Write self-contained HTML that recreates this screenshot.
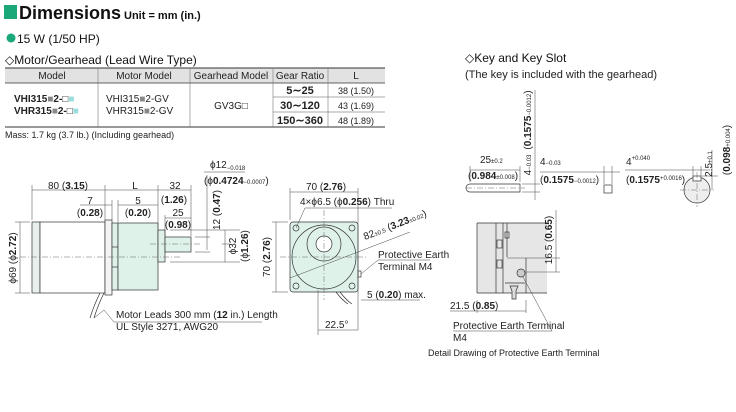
<!DOCTYPE html>
<html><head><meta charset="utf-8"><style>
html,body{margin:0;padding:0;background:#fff;}
svg{display:block;font-family:"Liberation Sans",sans-serif;}
.t{font-size:10px;fill:#222;}
.s{font-size:9px;fill:#222;}
.b{font-weight:bold;}
.ln{stroke:#333;stroke-width:0.7;fill:none;}
.dim{stroke:#444;stroke-width:0.5;fill:none;}
.cl{stroke:#666;stroke-width:0.5;stroke-dasharray:6 2 1 2;fill:none;}
</style></head><body>
<svg width="736" height="412" viewBox="0 0 736 412" xmlns="http://www.w3.org/2000/svg">
<!-- Header -->
<rect x="4" y="5" width="13" height="14" fill="#1aa77a"/>
<text x="19" y="19" style="font-size:18px;font-weight:bold" fill="#111">Dimensions</text>
<text x="124" y="19" class="b" style="font-size:11px" fill="#111">Unit = mm (in.)</text>
<circle cx="11" cy="38" r="4.5" fill="#1aa77a"/>
<text x="17" y="43" style="font-size:12px" fill="#111">15 W (1/50 HP)</text>
<text x="5" y="64" style="font-size:12px" fill="#111">◇Motor/Gearhead (Lead Wire Type)</text>
<!-- Table -->
<rect x="5" y="68" width="380" height="15" fill="#e2e2e2"/>
<line x1="5" y1="68" x2="385" y2="68" stroke="#333" stroke-width="1"/>
<line x1="5" y1="83" x2="385" y2="83" stroke="#333" stroke-width="0.8"/>
<line x1="5" y1="127" x2="385" y2="127" stroke="#333" stroke-width="1"/>
<line x1="273" y1="97" x2="385" y2="97" stroke="#555" stroke-width="0.6"/>
<line x1="273" y1="112" x2="385" y2="112" stroke="#555" stroke-width="0.6"/>
<g stroke="#777" stroke-width="0.6"><line x1="98" y1="68" x2="98" y2="127"/><line x1="190" y1="68" x2="190" y2="127"/><line x1="273" y1="68" x2="273" y2="127"/><line x1="328" y1="68" x2="328" y2="127"/></g>
<g class="t" text-anchor="middle"><text x="52" y="79">Model</text><text x="144" y="79">Motor Model</text><text x="231" y="79">Gearhead Model</text><text x="300" y="79">Gear Ratio</text><text x="356" y="79">L</text>
<text x="300" y="94" class="b" style="font-size:11px">5∼25</text><text x="300" y="109" class="b" style="font-size:11px">30∼120</text><text x="300" y="124" class="b" style="font-size:11px">150∼360</text>
<text x="356" y="94" class="s">38 (1.50)</text><text x="356" y="109" class="s">43 (1.69)</text><text x="356" y="124" class="s">48 (1.89)</text>
<text x="231" y="109">GV3G□</text></g>
<text x="14" y="102" class="b" style="font-size:10px" fill="#222">VHI315<tspan fill="#888">■</tspan>2-□<tspan fill="#9dd">■</tspan></text>
<text x="14" y="114" class="b" style="font-size:10px" fill="#222">VHR315<tspan fill="#888">■</tspan>2-□<tspan fill="#9dd">■</tspan></text>
<text x="106" y="102" class="t">VHI315<tspan fill="#888">■</tspan>2-GV</text>
<text x="106" y="114" class="t">VHR315<tspan fill="#888">■</tspan>2-GV</text>
<text x="5" y="138" class="s" fill="#333">Mass: 1.7 kg (3.7 lb.) (Including gearhead)</text>

<!-- Side view -->
<rect x="32" y="222" width="8" height="71" class="ln" style="fill:#e8f0ee"/>
<rect x="40" y="222" width="65" height="71" class="ln" style="fill:#fff"/>
<rect x="105" y="220" width="7" height="75" class="ln" style="fill:#f4f4f4"/>
<rect x="112" y="223" width="6" height="67" class="ln" style="fill:#dff2ea"/>
<rect x="118" y="223" width="40" height="67" class="ln" style="fill:#dff2ea"/>
<line x1="112" y1="247" x2="118" y2="247" class="ln"/><line x1="112" y1="267" x2="118" y2="267" class="ln"/>
<rect x="158" y="230" width="7" height="32" class="ln" style="fill:#dff2ea"/>
<rect x="165" y="237" width="26" height="15" class="ln" style="fill:#dff2ea"/>
<line x1="20" y1="257" x2="182" y2="257" class="cl"/>
<line x1="150" y1="244" x2="200" y2="244" class="cl"/>
<path d="M100 293 q-6 12 -10 25 M104 293 q-6 12 -10 25" class="ln"/>
<!-- side dims -->
<g class="dim"><line x1="32" y1="190" x2="105" y2="190"/><line x1="32" y1="185" x2="32" y2="220"/><line x1="105" y1="185" x2="105" y2="220"/>
<line x1="105" y1="190" x2="158" y2="190"/><line x1="158" y1="185" x2="158" y2="228"/><line x1="158" y1="190" x2="191" y2="190"/><line x1="191" y1="185" x2="191" y2="236"/>
<line x1="80" y1="205" x2="112" y2="205"/><line x1="112" y1="200" x2="112" y2="220"/><line x1="118" y1="205" x2="158" y2="205"/><line x1="118" y1="200" x2="118" y2="222"/>
<line x1="165" y1="218" x2="191" y2="218"/><line x1="165" y1="215" x2="165" y2="236"/>
<line x1="15" y1="222" x2="30" y2="222"/><line x1="15" y1="293" x2="30" y2="293"/><line x1="20" y1="222" x2="20" y2="293"/>
<line x1="207" y1="175" x2="207" y2="250"/><line x1="195" y1="237" x2="210" y2="237"/><line x1="195" y1="252" x2="210" y2="252"/>
<line x1="170" y1="230" x2="240" y2="230"/><line x1="170" y1="262" x2="240" y2="262"/><line x1="225" y1="230" x2="225" y2="262"/><line x1="222" y1="244" x2="230" y2="244"/>
<line x1="204" y1="172" x2="245" y2="172"/>
<path d="M94 318 l10 -8 M104 310 l10 12 h148"/></g>
<g class="t" text-anchor="middle"><text x="68" y="189">80 (<tspan class="b">3.15</tspan>)</text><text x="135" y="189">L</text><text x="175" y="189">32</text>
<text x="90" y="204">7</text><text x="90" y="216">(<tspan class="b">0.28</tspan>)</text><text x="138" y="204">5</text><text x="138" y="216">(<tspan class="b">0.20</tspan>)</text>
<text x="174" y="203">(<tspan class="b">1.26</tspan>)</text><text x="178" y="216">25</text><text x="178" y="228">(<tspan class="b">0.98</tspan>)</text></g>
<text x="16" y="258" class="t" text-anchor="middle" transform="rotate(-90 16 258)">ϕ69 (ϕ<tspan class="b">2.72</tspan>)</text>
<text x="220" y="210" class="t" text-anchor="middle" transform="rotate(-90 220 210)">12 (<tspan class="b">0.47</tspan>)</text>
<text x="236" y="246" class="t" text-anchor="middle" transform="rotate(-90 236 246)">ϕ32</text>
<text x="248" y="246" class="t" text-anchor="middle" transform="rotate(-90 248 246)">(ϕ<tspan class="b">1.26</tspan>)</text>
<text x="210" y="168" class="t">ϕ12<tspan style="font-size:6px" dy="2">−0.018</tspan></text>
<text x="204" y="184" class="t">(ϕ<tspan class="b">0.4724</tspan><tspan style="font-size:6px">−0.0007</tspan>)</text>
<text x="116" y="318" class="t">Motor Leads 300 mm (<tspan class="b">12</tspan> in.) Length</text>
<text x="116" y="330" class="t">UL Style 3271, AWG20</text>

<!-- Front view -->
<rect x="290" y="222" width="68" height="70" rx="3" class="ln" style="fill:#dff2ea"/>
<circle cx="324" cy="257" r="32" class="ln"/>
<circle cx="324" cy="244" r="17" class="ln"/>
<circle cx="324" cy="244" r="8" class="ln" style="fill:#fff"/>
<g class="ln"><circle cx="296" cy="228" r="3"/><circle cx="352" cy="228" r="3"/><circle cx="296" cy="286" r="3"/><circle cx="352" cy="286" r="3"/></g>
<line x1="280" y1="257" x2="368" y2="257" class="cl"/><line x1="324" y1="210" x2="324" y2="300" class="cl"/>
<path d="M336 292 q6 8 12 12 M340 292 q6 8 12 12" class="ln"/>
<rect x="358" y="271" width="3" height="6" class="ln"/>
<g class="dim"><line x1="290" y1="192" x2="358" y2="192"/><line x1="290" y1="188" x2="290" y2="220"/><line x1="358" y1="188" x2="358" y2="330"/>
<line x1="272" y1="222" x2="288" y2="222"/><line x1="272" y1="292" x2="288" y2="292"/><line x1="276" y1="222" x2="276" y2="292"/>
<line x1="296" y1="228" x2="305" y2="208" /><line x1="305" y1="208" x2="392" y2="208"/>
<line x1="290" y1="278" x2="410" y2="232"/>
<line x1="361" y1="274" x2="378" y2="260"/><line x1="378" y1="260" x2="430" y2="260"/>
<line x1="361" y1="300" x2="420" y2="300"/><line x1="318" y1="290" x2="318" y2="335"/><line x1="318" y1="330" x2="358" y2="330"/></g>
<g class="t"><text x="306" y="190">70 (<tspan class="b">2.76</tspan>)</text><text x="300" y="205">4×ϕ6.5 (ϕ<tspan class="b">0.256</tspan>) Thru</text>
<text x="378" y="258">Protective Earth</text><text x="378" y="270">Terminal M4</text>
<text x="367" y="298">5 (<tspan class="b">0.20</tspan>) max.</text><text x="325" y="328">22.5°</text></g>
<text x="365" y="240" class="t" transform="rotate(-21 365 240)">82<tspan style="font-size:6px">±0.5</tspan> (<tspan class="b">3.23</tspan><tspan style="font-size:6px">±0.02</tspan>)</text>
<text x="270" y="257" class="t" text-anchor="middle" transform="rotate(-90 270 257)">70 (<tspan class="b">2.76</tspan>)</text>

<!-- Key and key slot -->
<text x="465" y="62" style="font-size:12px" fill="#111">◇Key and Key Slot</text>
<text x="465" y="78" style="font-size:11px" fill="#222">(The key is included with the gearhead)</text>
<path d="M470 184 h50 v8 h-50 a4 4 0 0 1 0 -8z" class="ln"/>
<line x1="466" y1="188" x2="525" y2="188" class="cl"/>
<rect x="604" y="185" width="8" height="8" class="ln"/>
<circle cx="697" cy="190" r="13" class="ln" style="fill:#eee"/>
<rect x="693" y="176" width="8" height="5" class="ln" style="fill:#fff"/>
<line x1="680" y1="190" x2="714" y2="190" class="cl"/><line x1="697" y1="172" x2="697" y2="207" class="cl"/>
<g class="dim"><line x1="470" y1="170" x2="520" y2="170"/><line x1="470" y1="166" x2="470" y2="182"/><line x1="520" y1="166" x2="520" y2="182"/>
<line x1="535" y1="90" x2="535" y2="200"/><line x1="522" y1="184" x2="540" y2="184"/><line x1="522" y1="192" x2="540" y2="192"/>
<line x1="540" y1="172" x2="620" y2="172"/><line x1="604" y1="166" x2="604" y2="184"/><line x1="612" y1="166" x2="612" y2="184"/>
<line x1="625" y1="170" x2="710" y2="170"/><line x1="693" y1="166" x2="693" y2="176"/><line x1="701" y1="166" x2="701" y2="176"/>
<line x1="702" y1="176" x2="718" y2="176"/><line x1="712" y1="150" x2="712" y2="190"/></g>
<g class="t"><text x="480" y="163">25<tspan style="font-size:6px">±0.2</tspan></text><text x="468" y="179">(<tspan class="b">0.984</tspan><tspan style="font-size:6px">±0.008</tspan>)</text>
<text x="540" y="165">4<tspan style="font-size:6px">−0.03</tspan></text><text x="540" y="183">(<tspan class="b">0.1575</tspan><tspan style="font-size:6px">−0.0012</tspan>)</text>
<text x="626" y="165">4<tspan style="font-size:6px" dy="-5">+0.040</tspan></text><text x="626" y="183">(<tspan class="b">0.1575</tspan><tspan style="font-size:6px" dy="-3">+0.0016</tspan><tspan dy="3">)</tspan></text></g>
<text x="531" y="165" class="t" text-anchor="middle" transform="rotate(-90 531 165)">4<tspan style="font-size:6px">−0.03</tspan></text>
<text x="531" y="120" class="t" text-anchor="middle" transform="rotate(-90 531 120)">(<tspan class="b">0.1575</tspan><tspan style="font-size:6px">−0.0012</tspan>)</text>
<text x="712" y="164" class="t" text-anchor="middle" transform="rotate(-90 712 164)">2.5<tspan style="font-size:6px">+0.1</tspan></text>
<text x="730" y="150" class="t" text-anchor="middle" transform="rotate(-90 730 150)">(<tspan class="b">0.098</tspan><tspan style="font-size:6px">+0.004</tspan>)</text>

<!-- Detail -->
<rect x="477" y="223" width="70" height="70" fill="#e6e6e6" stroke="none"/>
<path d="M477 223 h70 M477 293 h70 M477 223 v70" class="ln"/>
<g class="ln"><line x1="496" y1="223" x2="496" y2="293"/><line x1="503" y1="223" x2="503" y2="293"/><line x1="507" y1="223" x2="507" y2="257"/>
<rect x="497" y="240" width="5" height="8"/><rect x="497" y="260" width="5" height="8"/><rect x="505" y="232" width="4" height="6"/>
<line x1="526" y1="258" x2="526" y2="293"/><line x1="505" y1="283" x2="525" y2="283"/></g>
<circle cx="521" cy="273" r="4" class="ln" style="fill:#ccc"/>
<path d="M510 286 h8 l-2 5 v8 h-4 v-8z" class="ln" style="fill:#ddd"/>
<g class="dim"><line x1="507" y1="258" x2="560" y2="258"/><line x1="526" y1="272" x2="560" y2="272"/><line x1="556" y1="210" x2="556" y2="272"/>
<line x1="477" y1="300" x2="477" y2="313"/><line x1="526" y1="300" x2="526" y2="313"/><line x1="450" y1="311" x2="526" y2="311"/>
<line x1="453" y1="331" x2="552" y2="331"/><line x1="523" y1="277" x2="552" y2="331"/></g>
<text x="552" y="240" class="t" text-anchor="middle" transform="rotate(-90 552 240)">16.5 (<tspan class="b">0.65</tspan>)</text>
<g class="t"><text x="450" y="309">21.5 (<tspan class="b">0.85</tspan>)</text><text x="453" y="329">Protective Earth Terminal</text><text x="453" y="341">M4</text>
<text x="428" y="356" class="s">Detail Drawing of Protective Earth Terminal</text></g>
</svg>
</body></html>
